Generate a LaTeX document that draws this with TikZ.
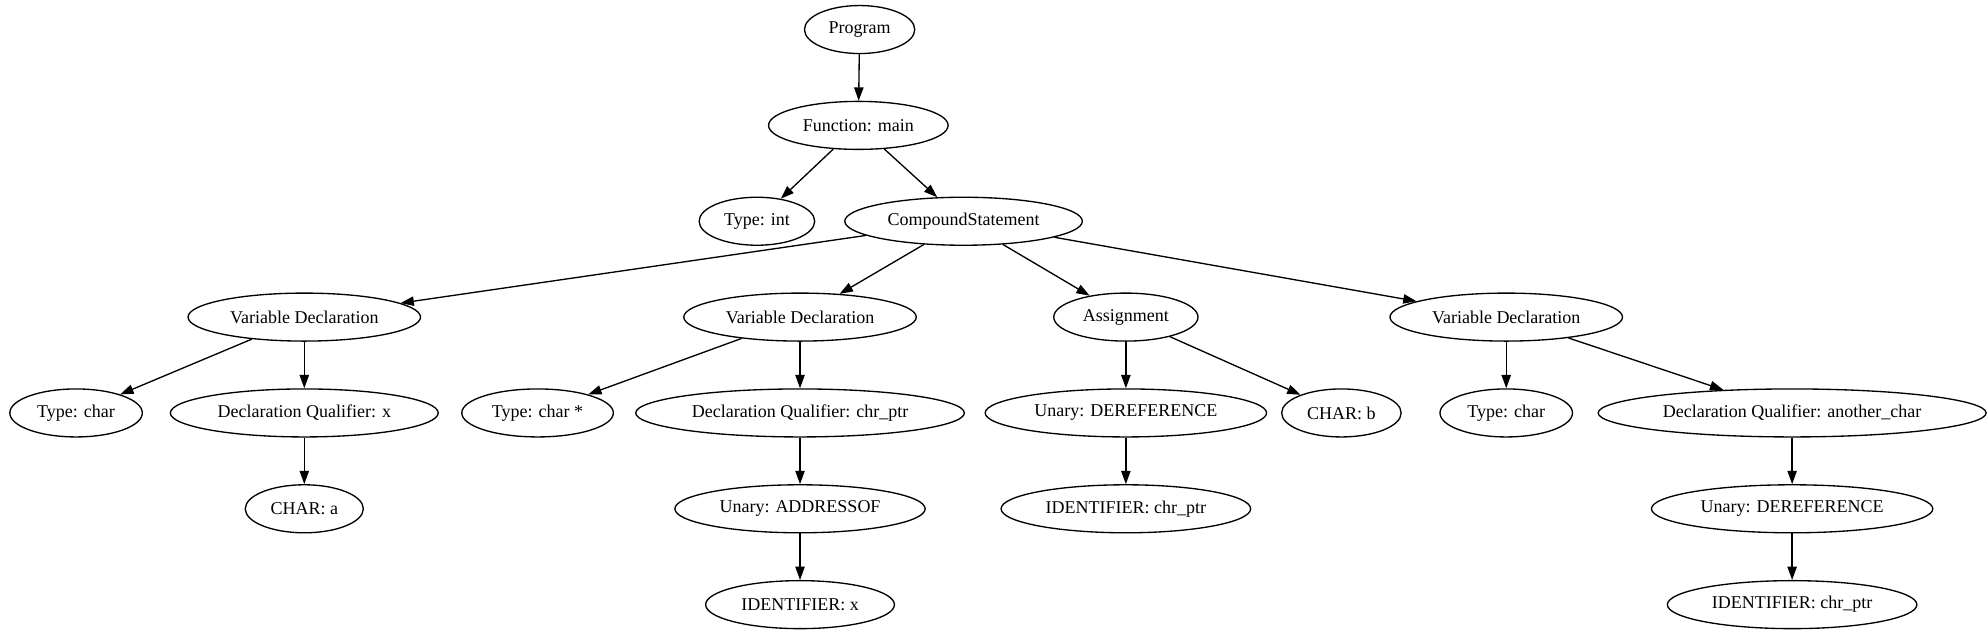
\documentclass[tikz,border=0pt]{standalone}
\usepackage{fontspec}
\setmainfont{Liberation Serif}
\usetikzlibrary{shapes.geometric, arrows.meta}

\begin{document}
\begin{tikzpicture}[
    x=0.951pt, y=-0.951pt,
    font=\fontsize{13.5}{16}\selectfont,
    astnode/.style ={draw, ellipse, minimum height=36pt, inner xsep=6pt,
                     inner ysep=0pt, line width=1pt},
    edge/.style    ={-{Triangle[length=10pt, width=7pt]}, line width=1pt}
]
\useasboundingbox (0,0) rectangle (1568,501);

% Top: program -> function
\node[astnode] (prog)  at (678,23.3)  {Program};
\node[astnode] (func)  at (677,98.9)  {Function: main};
\node[astnode] (tint)  at (597,174.5) {Type: int};
\node[astnode] (comp)  at (760,174.5) {CompoundStatement};

% Statements of the body
\node[astnode] (vdA)   at (240,250.1)  {Variable Declaration};
\node[astnode] (vdB)   at (631,250.1)  {Variable Declaration};
\node[astnode] (asg)   at (888,250.1)  {Assignment};
\node[astnode] (vdC)   at (1188,250.1) {Variable Declaration};

% First declaration
\node[astnode] (tcA)   at (60,325.7)  {Type: char};
\node[astnode] (dqA)   at (240,325.7) {Declaration Qualifier: x};
\node[astnode] (chA)   at (240,401.3) {CHAR: a};

% Second declaration
\node[astnode] (tcB)   at (424,325.7) {Type: char *};
\node[astnode] (dqB)   at (631,325.7) {Declaration Qualifier: chr\_ptr};
\node[astnode] (addr)  at (631,401.3) {Unary: ADDRESSOF};
\node[astnode] (idB)   at (631,476.9) {IDENTIFIER: x};

% Assignment
\node[astnode] (derA)  at (888,325.7)  {Unary: DEREFERENCE};
\node[astnode] (chB)   at (1058,325.7) {CHAR: b};
\node[astnode] (idA)   at (888,401.3)  {IDENTIFIER: chr\_ptr};

% Third declaration
\node[astnode] (tcC)   at (1188,325.7) {Type: char};
\node[astnode] (dqC)   at (1413.5,325.7) {Declaration Qualifier: another\_char};
\node[astnode] (derB)  at (1413.5,401.3) {Unary: DEREFERENCE};
\node[astnode] (idC)   at (1413.5,476.9) {IDENTIFIER: chr\_ptr};

% --- Edges ---
\draw[edge] (prog) -- (func);
\draw[edge] (func) -- (tint);
\draw[edge] (func) -- (comp);
\draw[edge] (comp) -- (vdA);
\draw[edge] (comp) -- (vdB);
\draw[edge] (comp) -- (asg);
\draw[edge] (comp) -- (vdC);

\draw[edge] (vdA) -- (tcA);
\draw[edge] (vdA) -- (dqA);
\draw[edge] (dqA) -- (chA);

\draw[edge] (vdB) -- (tcB);
\draw[edge] (vdB) -- (dqB);
\draw[edge] (dqB) -- (addr);
\draw[edge] (addr) -- (idB);

\draw[edge] (asg) -- (derA);
\draw[edge] (asg) -- (chB);
\draw[edge] (derA) -- (idA);

\draw[edge] (vdC) -- (tcC);
\draw[edge] (vdC) -- (dqC);
\draw[edge] (dqC) -- (derB);
\draw[edge] (derB) -- (idC);

\end{tikzpicture}
\end{document}
